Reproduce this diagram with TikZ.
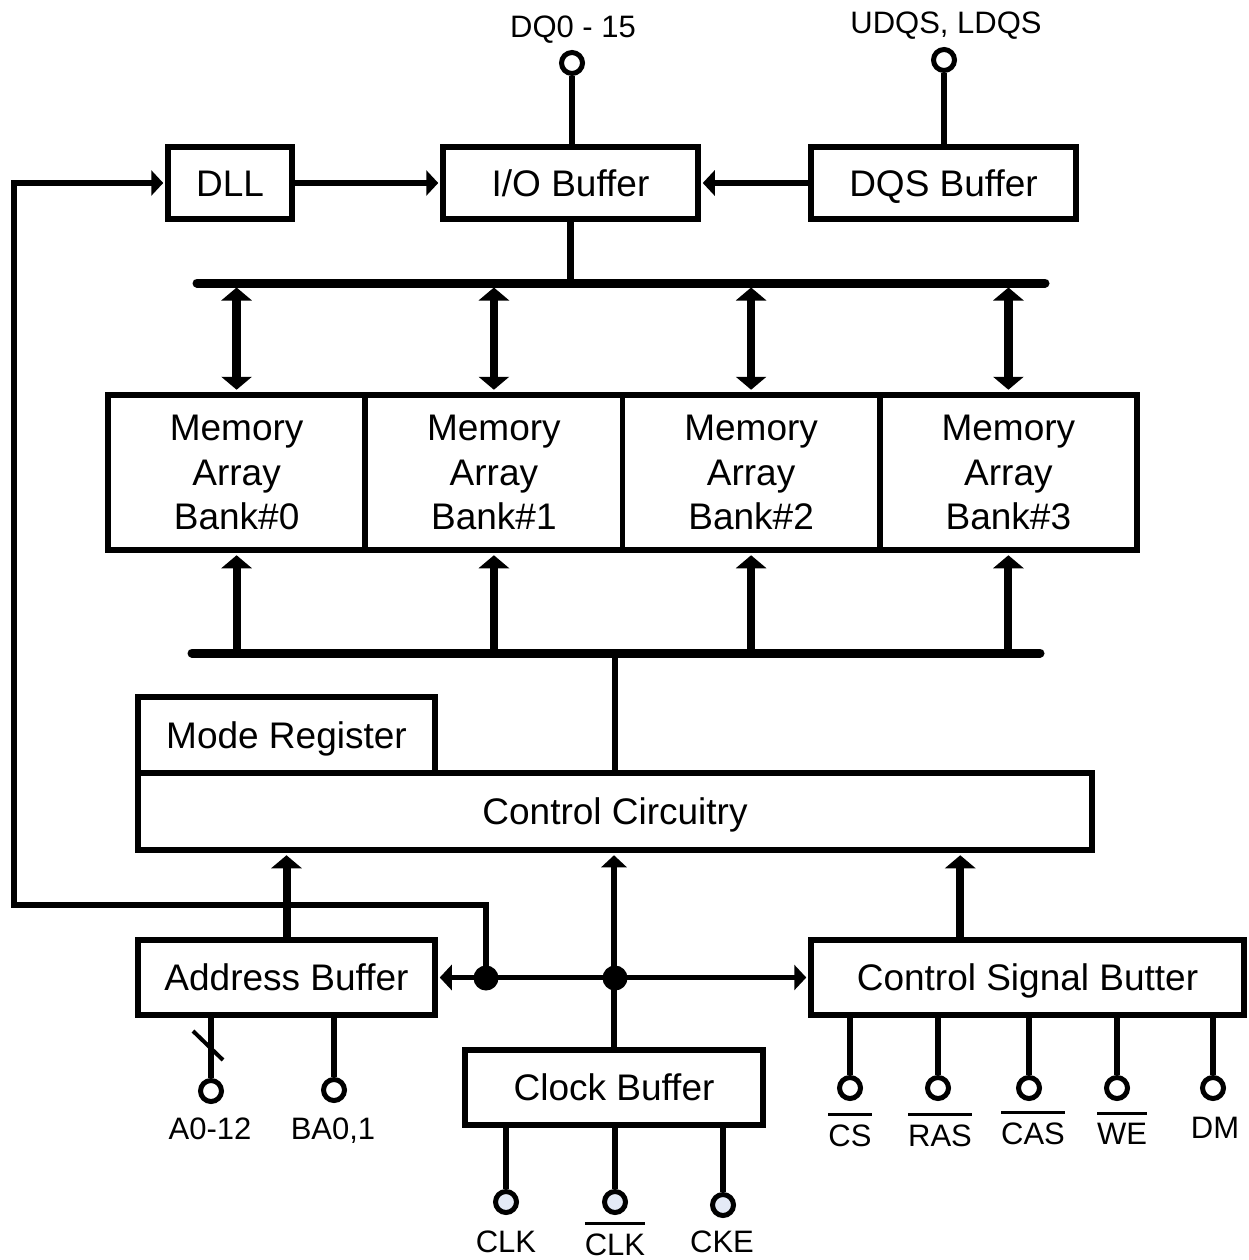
\documentclass[tikz,border=0pt]{standalone}
\usepackage{fontspec}
\setmainfont{Liberation Sans}
\usetikzlibrary{arrows.meta,calc}
\definecolor{pinfill}{HTML}{E4EAF6}
\newcommand\barred[1]{\vbox{\hrule height 3pt\kern 8pt\hbox{#1}}}
\begin{document}
\begin{tikzpicture}[x=1pt,y=-1pt,
  bigtext/.style={font=\fontsize{37}{44.5}\selectfont},
  smalltext/.style={font=\fontsize{31}{37}\selectfont},
  box/.style={draw, line width=5.5pt, rectangle, inner sep=0pt, bigtext, align=center, fill=white},
  onebox/.style={box, text height=30pt, text depth=3.5pt},
  term/.style={circle, draw, line width=5pt, minimum size=21pt, inner sep=0pt, fill=white},
  cterm/.style={term, fill=pinfill},
  lbl/.style={smalltext, anchor=base, inner sep=0pt},
  wire/.style={line width=5.5pt},
  thinarrow/.style={line width=5.5pt, -{Triangle[length=12pt,width=25pt]}},
  thickarrow/.style={line width=8pt, -{Triangle[length=13pt,width=30pt]}},
  dblarrow/.style={line width=8.5pt, {Triangle[length=13pt,width=30pt]}-{Triangle[length=13pt,width=30pt]}},
  bus/.style={line width=9pt, line cap=round},
  dot/.style={circle, fill=black, inner sep=0pt, minimum size=25pt},
]
\useasboundingbox (0,0) rectangle (1249,1260);

% top row
\node[onebox, minimum width=124pt, minimum height=72pt] (dll) at (230,183) {DLL};
\node[onebox, minimum width=255pt, minimum height=72pt] (io) at (570.5,183) {I/O Buffer};
\node[onebox, minimum width=265pt, minimum height=72pt] (dqs) at (943.5,183) {DQS Buffer};

% memory banks
\foreach \i/\cx in {0/236.6,1/493.9,2/751.1,3/1008.4}{
  \node[box, minimum width=257.25pt, minimum height=155pt] (mem\i) at (\cx,472.5) {Memory\\Array\\Bank\#\i};
}

% control
\node[onebox, minimum width=954pt, minimum height=77pt] (ctrl) at (615,811.5) {Control Circuitry};
\node[onebox, minimum width=297pt, minimum height=76pt] (mode) at (286.5,735) {Mode Register};
\node[onebox, minimum width=297pt, minimum height=75pt] (addr) at (286.5,977.5) {Address Buffer};
\node[onebox, minimum width=433pt, minimum height=75pt] (csb) at (1027.5,977.5) {Control Signal Butter};
\node[onebox, minimum width=298pt, minimum height=75pt] (clk) at (614,1087.5) {Clock Buffer};

% buses
\coordinate (btl) at (197,283);
\coordinate (btr) at (1045,283);
\coordinate (bbl) at (192,653);
\coordinate (bbr) at (1040,653);
\draw[bus] (btl) -- (btr);
\draw[bus] (bbl) -- (bbr);
\draw[line width=6.5pt] (io.south) -- (io.south |- btl);
\draw[line width=6.5pt] (ctrl.north) -- (ctrl.north |- bbl);

\foreach \i in {0,1,2,3}{
  \draw[dblarrow, shorten <=4.5pt, shorten >=2.5pt] (mem\i.north |- btl) -- (mem\i.north);
  \draw[thickarrow, shorten >=2.5pt] (mem\i.south |- bbl) -- (mem\i.south);
}

% top pins
\node[term] (tdq) at (572,63) {};
\node[lbl] (ldq) at (573,38) {DQ0 - 15};
\draw[wire] (tdq) -- (tdq |- io.north);
\node[term] (tdqs) at (944,60) {};
\node[lbl] (ldqs) at (946,34) {UDQS, LDQS};
\draw[wire] (tdqs) -- (tdqs |- dqs.north);

% top arrows
\draw[thinarrow, shorten >=2pt] (dll.east) -- (io.west);
\draw[thinarrow, shorten >=2pt] (dqs.west) -- (io.east);

% dots and horizontal distribution
\node[dot] (dotA) at (486,978) {};
\node[dot] (dotB) at (615,978) {};
\draw[line width=5.5pt, shorten <=2pt, shorten >=2pt, {Triangle[length=12pt,width=25pt]}-{Triangle[length=12pt,width=25pt]}] (addr.east) -- (csb.west);
\draw[thinarrow, shorten >=2.5pt] (clk.north) -- (clk.north |- ctrl.south);

% feedback to DLL
\coordinate (fb) at (14,905);
\draw[thinarrow, shorten >=2pt] (dotA.center) -- (dotA.center |- fb) -- (fb) -- (fb |- dll.west) -- (dll.west);

% arrows into control circuitry
\draw[thickarrow, shorten >=2.5pt] (addr.north) -- (addr.north |- ctrl.south);
\coordinate (csup) at ([xshift=152pt]csb.north west);
\draw[thickarrow, shorten >=2.5pt] (csup) -- (csup |- ctrl.south);

% address pins
\node[term] (ta) at (211,1091) {};
\node[term] (tba) at (334,1090) {};
\draw[wire] (ta) -- (ta |- addr.south);
\draw[wire] (tba) -- (tba |- addr.south);
\draw[line width=4pt] ($(ta)+(-18,-60)$) -- ($(ta)+(12,-31)$);
\node[lbl] (la) at (210,1139) {A0-12};
\node[lbl] (lba) at (333,1139) {BA0,1};

% clock pins
\node[cterm] (tclk) at (506,1202) {};
\node[cterm] (tclkb) at (615,1202) {};
\node[cterm] (tcke) at (723,1205) {};
\foreach \t in {tclk,tclkb,tcke}{\draw[wire] (\t) -- (\t |- clk.south);}
\node[lbl] (lclk) at (506,1252) {CLK};
\node[lbl] (lclkb) at (615,1255) {\barred{CLK}};
\node[lbl] (lcke) at (722,1252) {CKE};

% control signal pins
\node[term] (tcs) at (850,1088) {};
\node[term] (tras) at (938,1088) {};
\node[term] (tcas) at (1029,1088) {};
\node[term] (twe) at (1117,1088) {};
\node[term] (tdm) at (1213,1088) {};
\foreach \t in {tcs,tras,tcas,twe,tdm}{\draw[wire] (\t) -- (\t |- csb.south);}
\node[lbl] (lcs) at (850,1146) {\barred{CS}};
\node[lbl] (lras) at (940,1146) {\barred{RAS}};
\node[lbl] (lcas) at (1033,1144) {\barred{CAS}};
\node[lbl] (lwe) at (1122,1144) {\barred{WE}};
\node[lbl] (ldm) at (1215,1138) {DM};
\end{tikzpicture}
\end{document}
